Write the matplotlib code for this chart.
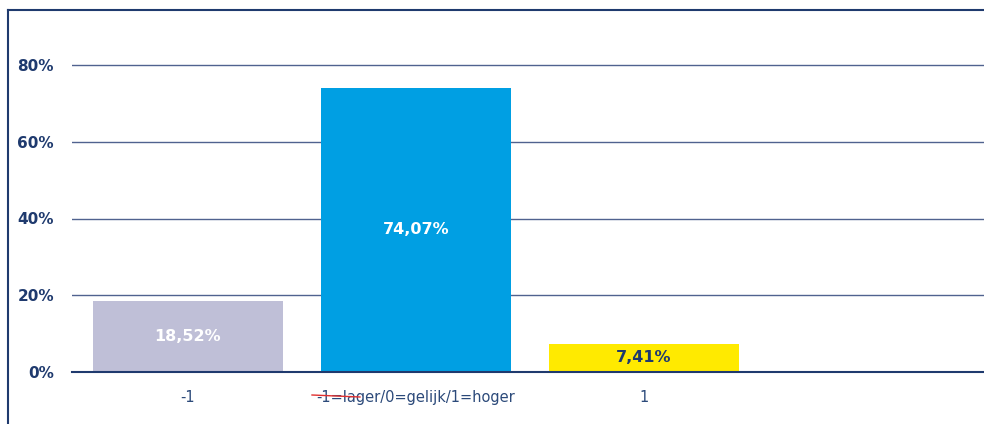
import matplotlib
matplotlib.use("Agg")
import matplotlib.pyplot as plt
from matplotlib.lines import Line2D
from matplotlib.ticker import FuncFormatter

# data
categories = ["-1", "-1=lager/0=gelijk/1=hoger", "1", ""]
values = [18.52, 74.07, 7.41, 0]
labels = ["18,52%", "74,07%", "7,41%", ""]
bar_colors = ["#BFBFD7", "#009FE3", "#FFEA00", "#FFFFFF"]
label_colors = ["white", "white", "#1F3A6E", "white"]
yticks = [0, 20, 40, 60, 80]

navy = "#1F3A6E"
plt.rcParams['font.family'] = ['DejaVu Sans']

W, H = 984, 424
fig = plt.figure(figsize=(W / 100, H / 100), dpi=100)
# axes: left x=72, bottom y=372 (0%), right edge of image
ax = fig.add_axes([72 / W, 1 - 372 / H, 1 - 72 / W, (372 - 30) / H])

x = range(len(categories))
ax.bar(x, values, width=0.83, color=bar_colors, zorder=2)
for i, v in enumerate(values):
    if labels[i]:
        ax.text(i, v / 2, labels[i], ha='center', va='center',
                color=label_colors[i], fontsize=11.5, fontweight='bold', zorder=3)

ax.set_ylim(0, (372 - 30) / 3.8375)
ax.set_xlim(-0.508, 3.49)
ax.set_yticks(yticks)
ax.yaxis.set_major_formatter(FuncFormatter(lambda v, p: f"{v:.0f}%"))
ax.set_xticks(list(x))
ax.set_xticklabels(categories)
ax.grid(axis='y', color='#50628F', lw=1, zorder=1)
ax.tick_params(axis='y', length=0, pad=13, labelsize=11, labelcolor=navy)
ax.tick_params(axis='x', length=0, pad=13, labelsize=10.5, labelcolor='#2C4A7A')
for lbl in ax.get_yticklabels():
    lbl.set_fontweight('bold')
for s in ['top', 'right', 'left']:
    ax.spines[s].set_visible(False)
ax.spines['bottom'].set_color(navy)
ax.spines['bottom'].set_linewidth(1.5)

# frame around the chart (left and top visible)
fig.add_artist(Line2D([7.5 / W, 7.5 / W], [0, 1 - 9.5 / H], color=navy, lw=1.5))
fig.add_artist(Line2D([7.5 / W, 1], [1 - 9.5 / H, 1 - 9.5 / H], color=navy, lw=1.5))
# red stroke over the axis label
fig.add_artist(Line2D([312 / W, 360 / W], [1 - 395 / H, 1 - 397 / H], color='#E03030', lw=1))

fig.savefig("out.png", dpi=100)
